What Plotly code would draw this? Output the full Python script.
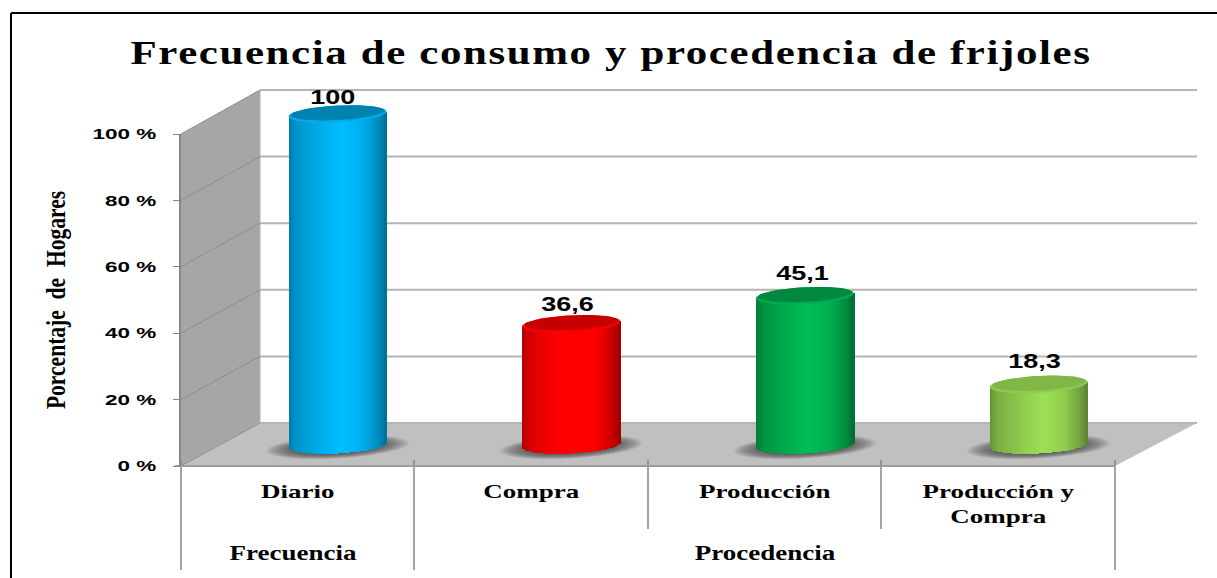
import numpy as np
import plotly.graph_objects as go

W, H = 1217, 578
title = "Frecuencia de consumo y procedencia de frijoles"
y_title = "Porcentaje\u00a0 de\u00a0 Hogares"
categories = ["Diario", "Compra", "Producción", "Producción y<br>Compra"]
groups = ["Frecuencia", "Procedencia"]
group_pos = [-0.02, 2]
values = [100, 36.6, 45.1, 18.3]
labels = ["100", "36,6", "45,1", "18,3"]
ticks = [0, 20, 40, 60, 80, 100]
tick_labels = ["0 %", "20 %", "40 %", "60 %", "80 %", "100 %"]
colors = [(0, 176, 240), (255, 0, 0), (0, 176, 80), (146, 208, 80)]
cap_shades = [0.74, 0.78, 0.78, 0.88]
label_dx = [-5, -4, -2, -4]
label_dy = [17, 20, 23, 23]

SERIF = "Liberation Serif"
SANS = "Liberation Sans"
def X(p): return p / W
def Y(p): return 1 - p / H

SC = 3.31      # px per unit in value
BAR_X0, BAR_DX = 337.5, 233.7
BAR_Y0 = 445
HALF = 49 / BAR_DX
TILT = 2.5 / SC
MINOR = 8.5 / SC
front_y = lambda v: 466 - 3.32 * v
back_y = lambda v: 423 - 3.33 * v

def shade(rgb, f):
    return "rgb(%d,%d,%d)" % tuple(min(255, int(c * f)) for c in rgb)

def ell(cx, cy, a, b, tilt, n=60):
    th = np.linspace(0, 2 * np.pi, n)
    return cx + a * np.cos(th), cy + b * np.sin(th) + tilt * np.cos(th) * (a / HALF)

fig = go.Figure()
idx = np.arange(len(values))
vals = np.array(values)

fig.add_trace(go.Scatter(x=idx, y=vals, mode="markers", marker=dict(opacity=0), hoverinfo="skip",
                         showlegend=False, xaxis="x", yaxis="y"))

N = 40
edges = np.linspace(-1, 1, N + 1)
for i in range(N):
    t = (edges[i] + edges[i + 1]) / 2
    f = np.interp(t, [-1, -0.85, -0.3, 0.1, 0.5, 0.85, 1], [0.7, 0.84, 0.99, 1.08, 1.0, 0.78, 0.62])
    base = TILT * t - MINOR * np.sqrt(max(0, 1 - t ** 2))
    top = vals + TILT * t
    fig.add_trace(go.Bar(
        x=idx, y=top - base, base=[base] * len(vals),
        width=[(edges[1] - edges[0]) * HALF * 1.3] * len(vals),
        offset=[edges[i] * HALF] * len(vals),
        marker=dict(color=[shade(c, f) for c in colors], line=dict(width=0)),
        hoverinfo="skip", showlegend=False, xaxis="x2", yaxis="y2"))

for k, (v, c, cs) in enumerate(zip(values, colors, cap_shades)):
    ex, ey = ell(k, v, HALF, MINOR, TILT)
    fig.add_trace(go.Scatter(x=ex, y=ey, mode="lines", fill="toself", line=dict(width=0),
                             fillcolor=shade(c, 0.98), hoverinfo="skip", showlegend=False,
                             xaxis="x2", yaxis="y2"))
    ex, ey = ell(k, v + 0.35, HALF * 0.96, MINOR * 0.86, TILT * 0.96)
    fig.add_trace(go.Scatter(x=ex, y=ey, mode="lines", fill="toself", line=dict(width=0),
                             fillcolor=shade(c, cs), hoverinfo="skip", showlegend=False,
                             xaxis="x2", yaxis="y2"))

shapes = []
def poly(pts, color):
    d = "M" + " L".join(f"{X(a):.5f},{Y(b):.5f}" for a, b in pts) + " Z"
    shapes.append(dict(type="path", path=d, xref="paper", yref="paper", fillcolor=color,
                       line=dict(width=0), layer="below"))
def seg(x0, y0, x1, y1, color, w, layer="below"):
    shapes.append(dict(type="line", x0=X(x0), y0=Y(y0), x1=X(x1), y1=Y(y1), xref="paper", yref="paper",
                       line=dict(color=color, width=w), layer=layer))

poly([(181, 134), (260, 90), (260, 423), (181, 466)], "#a6a6a6")
poly([(181, 466), (260, 423), (1197, 423), (1115, 466)], "#c0c0c0")
for v in ticks:
    seg(260, back_y(v), 1197, back_y(v), "#b4b4b4", 2)
    seg(181, front_y(v), 260, back_y(v), "#8c8c8c", 1)
seg(260, 90, 260, 423, "#b0b0b0", 1)

for k in range(len(values)):
    for s in np.linspace(1, 0.6, 12):
        ex, ey = ell(k, -0.6, HALF * 1.45 * s, MINOR * 1.35 * s, TILT * 1.1)
        d = "M" + " L".join(f"{a:.4f},{b:.4f}" for a, b in zip(ex, ey)) + " Z"
        shapes.append(dict(type="path", path=d, xref="x2", yref="y2", fillcolor="rgba(50,50,50,0.09)",
                           line=dict(width=0), layer="below"))

DIV = "#868686"
seg(181, 460, 181, 570, DIV, 1.5)
seg(414, 460, 414, 570, DIV, 1.5)
seg(648, 460, 648, 529, DIV, 1.5)
seg(881, 460, 881, 529, DIV, 1.5)
seg(1115, 460, 1115, 570, DIV, 1.5)
seg(175, 466, 1115, 466, "#9c9c9c", 2)

seg(11, 13, 1217, 13, "#000000", 2, "above")
seg(11, 13, 11, 578, "#000000", 2, "above")

ann = []
for k, (v, lab) in enumerate(zip(values, labels)):
    ann.append(dict(x=k, y=v, xref="x2", yref="y2", text=f"<b>{lab}</b>", showarrow=False,
                    xshift=label_dx[k], yshift=label_dy[k],
                    font=dict(family=SANS, size=20, color="#000")))
for g, p in zip(groups, group_pos):
    ann.append(dict(x=p, y=Y(553), xref="x", yref="paper", yanchor="middle", text=f"<b>{g}</b>", showarrow=False,
                    font=dict(family=SERIF, size=20, color="#000")))

fig.update_layout(
    width=W, height=H, margin=dict(l=0, r=0, t=0, b=0, autoexpand=False), autosize=False,
    paper_bgcolor="white", plot_bgcolor="rgba(0,0,0,0)", barmode="overlay", bargap=0,
    showlegend=False, shapes=shapes, annotations=ann,
    title=dict(text=f"<b>{title}</b>", x=611 / W, xanchor="center", y=Y(52), yanchor="middle",
               font=dict(family=SERIF, size=33, color="#000")),
    xaxis=dict(domain=[X(181), X(1115)], range=[-0.5, 3.5], anchor="y", tickmode="array",
               tickvals=list(idx), ticktext=[f"<b>{c.replace('<br>', '</b><br><b>')}</b>" for c in categories],
               ticks="", showgrid=False, zeroline=False, showline=False, ticklabelstandoff=12,
               tickfont=dict(family=SERIF, size=19, color="#000")),
    yaxis=dict(domain=[Y(466), Y(134)], range=[0, 100], anchor="x", tickmode="array", tickvals=ticks,
               ticktext=[f"<b>{t}</b>" for t in tick_labels], ticks="outside", ticklen=6, tickcolor="#868686",
               showline=True, linecolor="#868686", linewidth=1.5, showgrid=False, zeroline=False, ticklabelstandoff=14,
               tickfont=dict(family=SANS, size=15, color="#000"),
               title=dict(text=f"<b>{y_title}</b>", standoff=40,
                          font=dict(family=SERIF, size=28, color="#000"))),
    xaxis2=dict(domain=[0, 1], range=[-BAR_X0 / BAR_DX, (W - BAR_X0) / BAR_DX], anchor="y2", visible=False),
    yaxis2=dict(domain=[0, 1], range=[(BAR_Y0 - H) / SC, BAR_Y0 / SC], anchor="x2", visible=False),
)

POST = """
document.body.style.margin='0';
function stretch(sel, sx, sy, ls){
  document.querySelectorAll(sel).forEach(function(el){
    var x=parseFloat(el.getAttribute('x'))||0, y=parseFloat(el.getAttribute('y'))||0;
    var t=el.getAttribute('transform')||'';
    el.setAttribute('transform', t+' translate('+x+','+y+') scale('+sx+','+sy+') translate('+(-x)+','+(-y)+')');
    if(ls) el.style.letterSpacing=ls;
  });
}
stretch('text.gtitle',1.3,1,'1.25px');
stretch('.xtick text',1.42,1);
stretch('.ytick text',1.5,1);
stretch('text.annotation-text',1.35,1);
stretch('text.ytitle',0.77,1);
"""
fig.write_html("out.html", post_script=POST, config={"displayModeBar": False})
